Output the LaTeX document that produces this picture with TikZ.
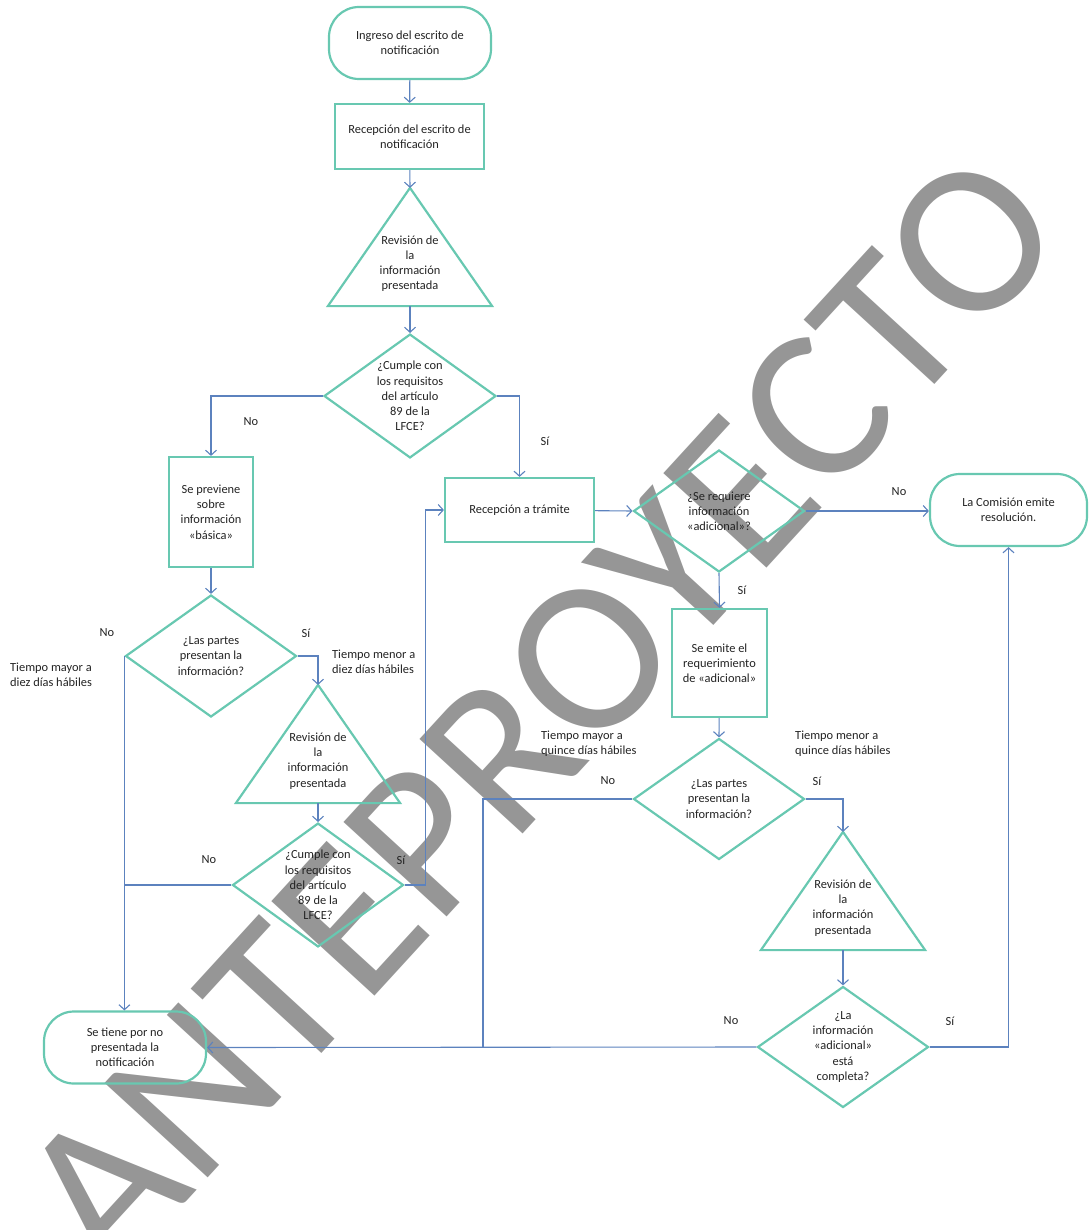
\documentclass[tikz,border=0pt]{standalone}
\usepackage{fontspec}
\setmainfont{Carlito}
\usepackage{tikz}
\usetikzlibrary{shapes.geometric,arrows.meta}
\definecolor{menta}{RGB}{104,200,177}
\definecolor{azul}{RGB}{92,130,190}
\definecolor{tinta}{RGB}{35,35,35}
\definecolor{marca}{RGB}{150,150,150}

\begin{document}
\begin{tikzpicture}[x=1pt,y=-1pt,
      >={Straight Barb[length=5pt,width=11pt]},
      base/.style={draw=menta, line width=2.2pt, text=tinta, align=center, inner sep=0pt,
                   font=\fontsize{12.4}{15.2}\selectfont},
      term/.style={base, rectangle, rounded corners=30pt, minimum width=162pt, minimum height=72pt},
      proc/.style={base, rectangle},
      decis/.style={base, diamond, inner sep=-3pt, minimum width=171pt, minimum height=122pt},
      revis/.style={base, draw=none, rectangle, minimum width=162pt, text height=101pt, text depth=15pt},
      lado/.style={draw=menta, line width=2.2pt},
      flecha/.style={draw=azul, line width=1.1pt},
      etiq/.style={text=tinta, font=\fontsize{12.4}{15.2}\selectfont, inner sep=0pt}]
               \useasboundingbox (0,0) rectangle (1088,1230);
               \node[rotate=47.5, text=marca, inner sep=0pt,
                     font=\fontsize{218}{218}\selectfont] (marca) at (540,712) {ANTEPROYECTO};

               \node[term] (ingreso) at (410,43) {Ingreso del escrito de\\notificación};
               \node[proc, minimum width=149pt, minimum height=65pt] (recep1) at (409.5,136.5) {Recepción del escrito de\\notificación};
               \node[revis] (rev1) at (410,247) {Revisión de\\la\\información\\presentada};
               \node[decis, minimum width=172pt] (cump1) at (410,396) {¿Cumple con\\los requisitos\\del artículo\\89 de la\\LFCE?};
               \node[proc, minimum width=84pt, minimum height=110pt] (prev) at (211,512) {Se previene\\sobre\\información\\«básica»};
               \node[decis] (partes1) at (211,656) {¿Las partes\\presentan la\\información?};
               \node[revis] (rev2) at (318,744) {Revisión de\\la\\información\\presentada};
               \node[decis] (cump2) at (318,885) {¿Cumple con\\los requisitos\\del artículo\\89 de la\\LFCE?};
               \node[term] (notif) at (125,1047.5) {Se tiene por no\\presentada la\\notificación};
               \node[proc, minimum width=149pt, minimum height=64pt] (tram) at (519.5,510) {Recepción a trámite};
               \node[decis] (sereq) at (719,511) {¿Se requiere\\información\\«adicional»?};
               \node[term, minimum width=157pt] (comis) at (1008.5,510) {La Comisión emite\\resolución.};
               \node[proc, minimum width=95pt, minimum height=108pt] (emite) at (719.5,663) {Se emite el\\requerimiento\\de «adicional»};
               \node[decis, minimum height=121pt] (partes2) at (719,799) {¿Las partes\\presentan la\\información?};
               \node[revis] (rev3) at (843,891) {Revisión de\\la\\información\\presentada};
               \node[decis, minimum height=121pt] (completa) at (843,1047) {¿La\\información\\«adicional»\\está\\completa?};
               \coordinate (union) at (483,1047);
               \foreach \t in {rev1,rev2,rev3}
                  \draw[lado] (\t.south west) -- (\t.north) -- (\t.south east) -- cycle;

               \draw[flecha,->] (ingreso) -- (recep1);
               \draw[flecha,->] (recep1) -- (rev1.north);
               \draw[flecha,->] (rev1.south) -- (cump1.north);
               \draw[flecha,->] (cump1.west) -| (prev.north);
               \draw[flecha,->] (cump1.east) -| (tram.north);
               \draw[flecha,->] (prev) -- (partes1.north);
               \draw[flecha,->] (partes1.west) -- (partes1.west |- notif.north);
               \draw[flecha,->] (partes1.east) -| (rev2.north);
               \draw[flecha,->] (rev2.south) -- (cump2.north);
               \draw[flecha] (cump2.west) -- (cump2.west -| partes1.west);
               \draw[flecha,->] (cump2.east) -- ++(21,0) |- (tram.west);
               \draw[flecha,->] (tram) -- (sereq.west);
               \draw[flecha,->] (sereq.east) -- (comis.west |- sereq.east);
               \draw[flecha,->] (sereq.south) -- (emite.north);
               \draw[flecha,->] (emite) -- (partes2.north);
               \draw[flecha] (partes2.west) -| (union);
               \draw[flecha,->] (partes2.east) -| (rev3.north);
               \draw[flecha,->] (rev3.south) -- (completa.north);
               \draw[flecha,->] (completa.west) -- (notif.east);
               \draw[flecha,->] (completa.east) -| (comis.south);

               \node[etiq] (no1) at (251,422) {No};
               \node[etiq] (si1) at (545,441) {Sí};
               \node[etiq] (no2) at (107,633) {No};
               \node[etiq] (si2) at (306,633) {Sí};
               \node[etiq, align=left, anchor=west] (mayor1) at (10,675) {Tiempo mayor a\\diez días hábiles};
               \node[etiq, align=left, anchor=west] (menor1) at (332,662) {Tiempo menor a\\diez días hábiles};
               \node[etiq] (no3) at (209,860) {No};
               \node[etiq] (si3) at (401,860) {Sí};
               \node[etiq] (no4) at (899,492) {No};
               \node[etiq] (si4) at (742,590) {Sí};
               \node[etiq, align=left, anchor=west] (mayor2) at (541,744) {Tiempo mayor a\\quince días hábiles};
               \node[etiq, align=left, anchor=west] (menor2) at (795,744) {Tiempo menor a\\quince días hábiles};
               \node[etiq] (no5) at (608,781) {No};
               \node[etiq] (si5) at (817,781) {Sí};
               \node[etiq] (no6) at (731,1021) {No};
               \node[etiq] (si6) at (950,1021) {Sí};
\end{tikzpicture}
\end{document}
